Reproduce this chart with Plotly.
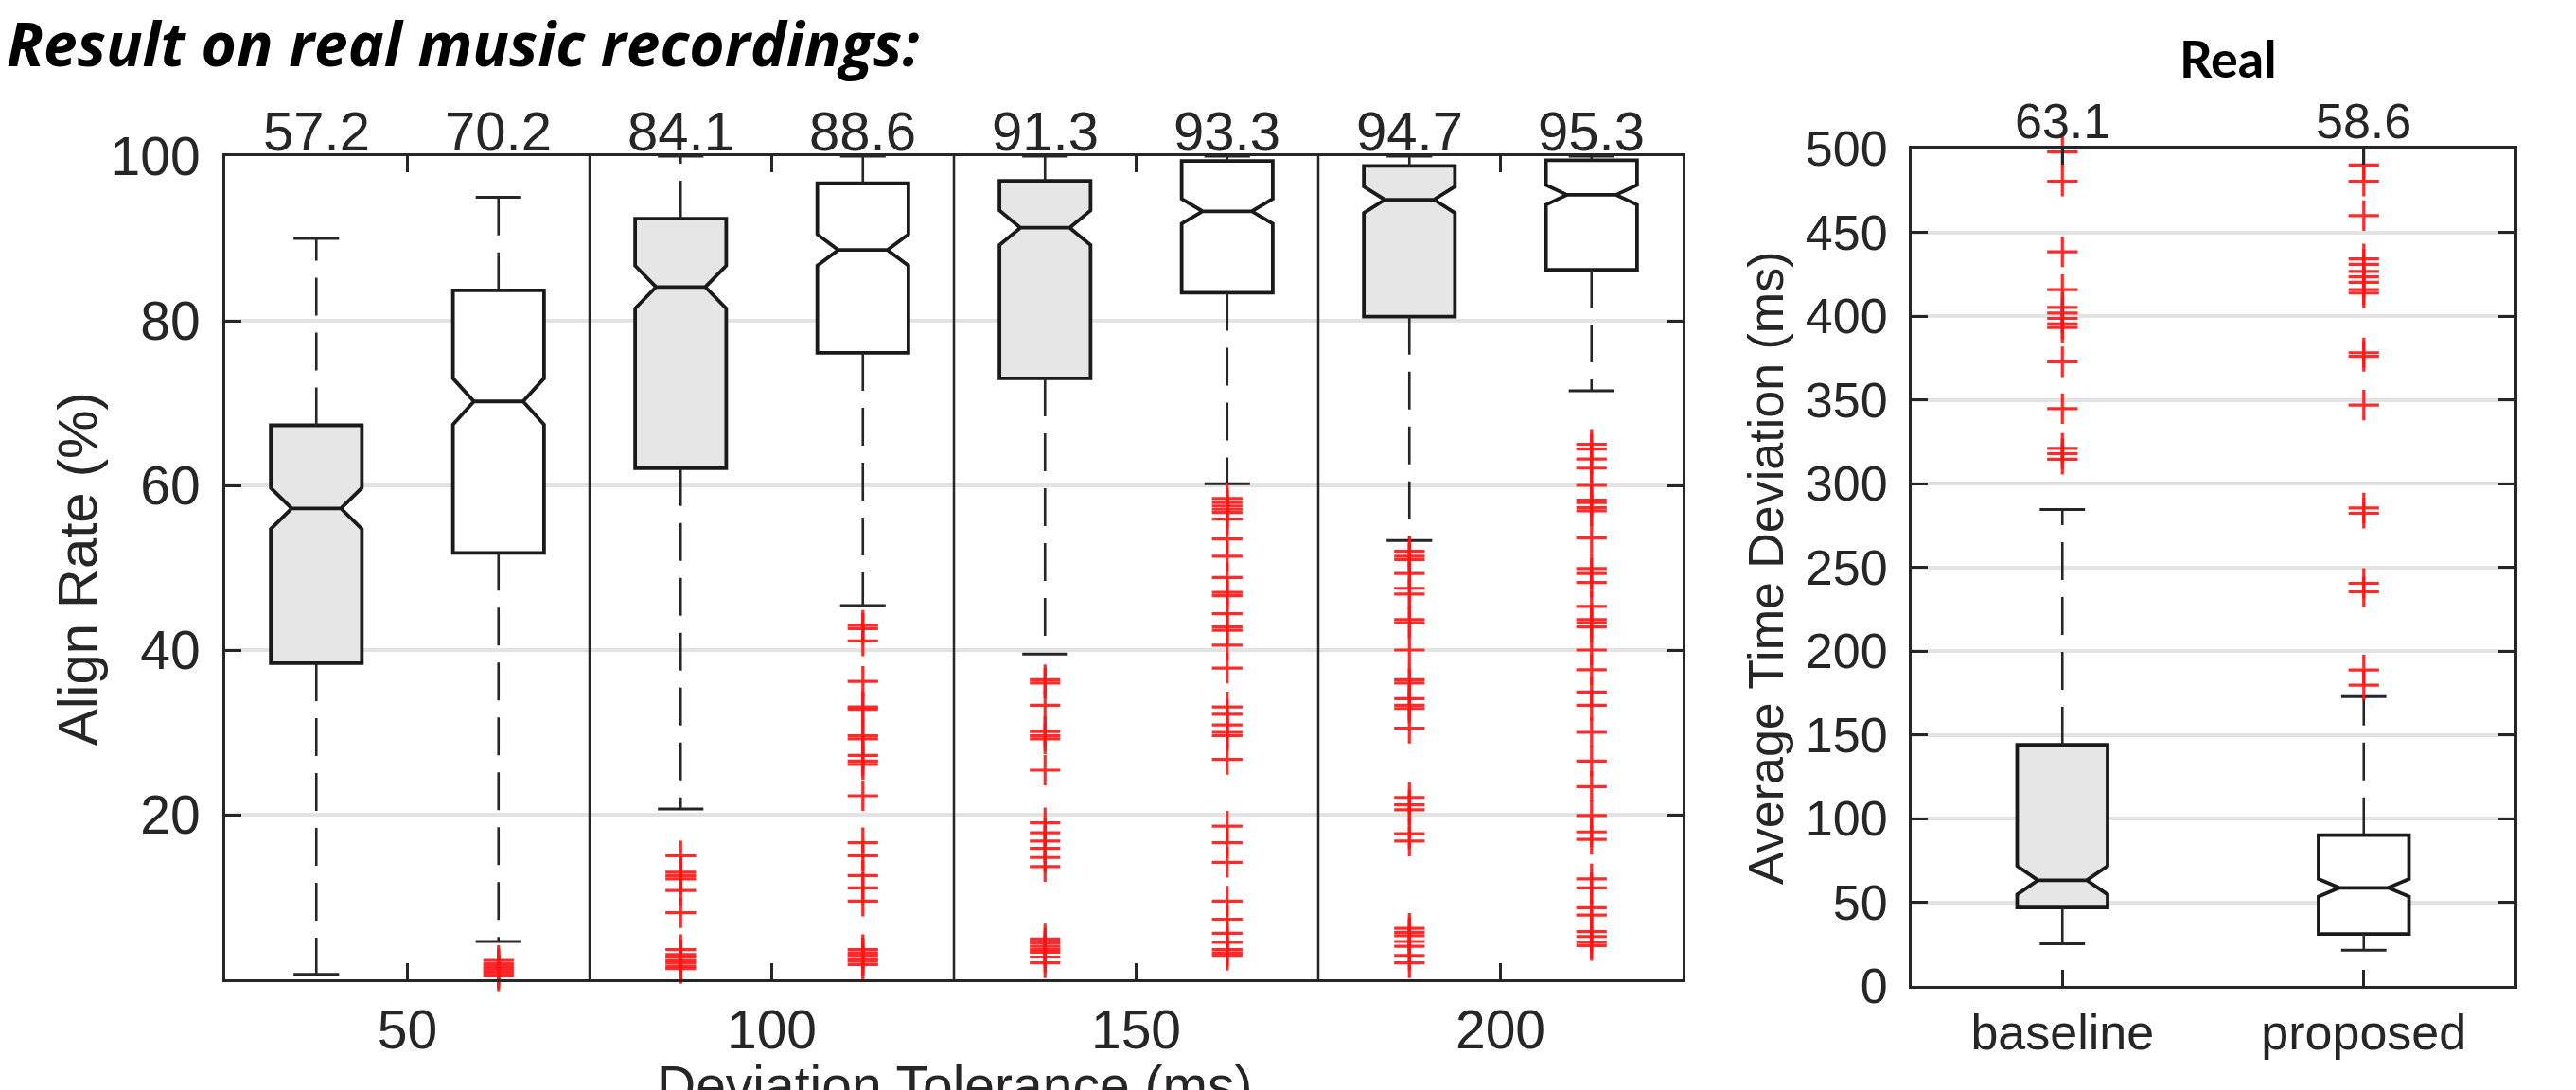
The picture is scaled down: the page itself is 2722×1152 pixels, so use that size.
import plotly.graph_objects as go

# ---------------- data ----------------
groups = ["50", "100", "150", "200"]           # deviation tolerance (ms)
methods = ["baseline", "proposed"]

# Align-rate boxes, order: 50-base, 50-prop, 100-base, 100-prop, ...
align_median = [57.2, 70.2, 84.1, 88.6, 91.3, 93.3, 94.7, 95.3]
align_q1 = [38.4, 51.8, 62.1, 76.1, 73.0, 83.4, 80.5, 86.2]
align_q3 = [67.3, 83.7, 92.4, 96.7, 97.0, 99.4, 98.8, 99.5]
align_lower = [0.6, 4.6, 20.7, 45.4, 39.5, 60.2, 53.3, 71.5]
align_upper = [90.0, 95.0, 100.0, 100.0, 100.0, 100.0, 100.0, 100.0]
align_notch = [2.5, 2.8, 2.6, 1.9, 2.1, 1.5, 1.6, 1.2]

out_50_base = []
out_50_prop = [2.3, 1.9, 1.6, 1.3, 1.0, 0.7, 0.4]
out_100_base = [15.0, 13.0, 12.6, 12.2, 10.8, 8.1, 3.6, 3.0, 2.7, 2.3, 2.0, 1.6, 1.3]
out_100_prop = [43.0, 42.6, 41.1, 36.2, 33.1, 32.8, 29.6, 29.2, 27.2, 26.5, 26.1, 22.3,
                16.6, 15.0, 12.6, 11.1, 9.5, 3.6, 3.2, 2.9, 2.5, 2.2, 1.8]
out_150_base = [36.4, 36.0, 33.3, 30.1, 29.6, 29.2, 25.4, 19.0, 17.8, 16.8, 15.9, 14.8,
                13.7, 4.9, 4.4, 4.0, 3.6, 3.3, 2.7, 2.0]
out_150_prop = [58.4, 57.9, 57.5, 57.1, 56.7, 55.9, 53.5, 51.4, 48.8, 47.0, 46.6, 44.4,
                42.8, 42.4, 40.6, 37.8, 33.1, 32.2, 30.9, 30.0, 29.6, 26.7, 18.6, 16.6,
                14.2, 9.5, 7.3, 5.6, 4.5, 3.6, 3.2, 2.9]
out_200_base = [52.0, 51.4, 51.0, 49.3, 47.5, 46.8, 43.7, 43.3, 40.0, 36.4, 36.0, 34.1,
                33.3, 32.9, 30.5, 22.1, 21.2, 20.6, 17.7, 16.8, 6.2, 5.7, 5.3, 4.6,
                4.0, 2.9, 2.0]
out_200_prop = [65.0, 64.4, 63.2, 62.1, 60.0, 58.2, 57.9, 57.3, 56.9, 53.6, 49.9, 49.3,
                48.2, 45.3, 43.7, 43.3, 42.8, 40.0, 37.6, 34.9, 33.3, 30.0, 26.5, 23.4,
                19.9, 17.9, 17.0, 12.2, 11.1, 8.7, 7.8, 5.8, 5.2, 4.5, 4.1]
align_outliers = [out_50_base, out_50_prop, out_100_base, out_100_prop,
                  out_150_base, out_150_prop, out_200_base, out_200_prop]

# Average time deviation (ms): baseline, proposed
dev_median = [63.1, 58.6]
dev_q1 = [46.8, 31.0]
dev_q3 = [144.0, 90.0]
dev_lower = [25.2, 21.3]
dev_upper = [284.4, 172.7]
dev_notch = [8.5, 5.2]
out_dev_base = [498.0, 480.5, 438.4, 415.8, 405.1, 401.8, 398.6, 395.3, 393.2, 372.7,
                344.7, 321.0, 317.8, 314.5]
out_dev_prop = [490.2, 480.5, 460.0, 434.1, 430.9, 426.6, 423.4, 420.1, 415.8, 413.7,
                378.1, 375.9, 346.8, 285.4, 282.2, 240.4, 235.3, 188.6, 179.6]
dev_outliers = [out_dev_base, out_dev_prop]

align_yticks = [20, 40, 60, 80, 100]
dev_yticks = [0, 50, 100, 150, 200, 250, 300, 350, 400, 450, 500]

# ---------------- styles ----------------
W, H = 2722, 1152
AX = "#262626"
GRID = "#e3e3e3"
BOXLINE = "#1a1a1a"
FILLS = ["#e6e6e6", "#ffffff"]
RED = "rgba(255,20,20,0.9)"
TICKFONT_L = dict(family="Liberation Sans, Arial, sans-serif", size=57, color=AX)
TICKFONT_R = dict(family="Liberation Sans, Arial, sans-serif", size=52, color=AX)

fig = go.Figure()


def add_boxes(xaxis, yaxis, positions, q1, med, q3, lo, hi, notch, outs, fill,
              bw, capw):
    fig.add_trace(go.Box(
        x=positions, q1=q1, median=med, q3=q3, lowerfence=q1, upperfence=q3,
        notchspan=notch, notched=True, notchwidth=0.23, width=bw,
        fillcolor=fill, line=dict(color=BOXLINE, width=3.8), whiskerwidth=0,
        boxpoints=False, hoverinfo="skip", xaxis=xaxis, yaxis=yaxis))
    # dashed whiskers
    wx, wy, cx, cy = [], [], [], []
    for p, a, b, l, h in zip(positions, q1, q3, lo, hi):
        wx += [p, p, None, p, p, None]
        wy += [b, h, None, a, l, None]
        cx += [p - capw / 2, p + capw / 2, None, p - capw / 2, p + capw / 2, None]
        cy += [h, h, None, l, l, None]
    fig.add_trace(go.Scatter(x=wx, y=wy, mode="lines", hoverinfo="skip",
                             line=dict(color=AX, width=2.6, dash="40px,18px"),
                             xaxis=xaxis, yaxis=yaxis))
    fig.add_trace(go.Scatter(x=cx, y=cy, mode="lines", hoverinfo="skip",
                             line=dict(color=AX, width=3),
                             xaxis=xaxis, yaxis=yaxis))
    ox, oy = [], []
    for p, o in zip(positions, outs):
        ox += [p] * len(o)
        oy += list(o)
    fig.add_trace(go.Scatter(x=ox, y=oy, mode="markers", hoverinfo="skip",
                             marker=dict(symbol="cross-thin", size=23,
                                         line=dict(color=RED, width=3.2)),
                             cliponaxis=False, xaxis=xaxis, yaxis=yaxis))


# left plot: group g at x = g+1, baseline at -0.25, proposed at +0.25
for m in range(2):
    idx = [g * 2 + m for g in range(len(groups))]
    pos = [g + 1 + (-0.25 if m == 0 else 0.25) for g in range(len(groups))]
    add_boxes("x", "y", pos,
              [align_q1[i] for i in idx], [align_median[i] for i in idx],
              [align_q3[i] for i in idx], [align_lower[i] for i in idx],
              [align_upper[i] for i in idx], [align_notch[i] for i in idx],
              [align_outliers[i] for i in idx], FILLS[m], 0.25, 0.125)

# right plot
for m in range(2):
    add_boxes("x2", "y2", [m + 1], [dev_q1[m]], [dev_median[m]], [dev_q3[m]],
              [dev_lower[m]], [dev_upper[m]], [dev_notch[m]], [dev_outliers[m]],
              FILLS[m], 0.30, 0.15)

annotations = []
# median labels above plots
for i, med in enumerate(align_median):
    g, m = divmod(i, 2)
    annotations.append(dict(x=g + 1 + (-0.25 if m == 0 else 0.25), y=100,
                            xref="x", yref="y", text=f"{med:.1f}", showarrow=False,
                            xanchor="center", yanchor="bottom", yshift=-8,
                            font=dict(TICKFONT_L, size=58)))
for m, med in enumerate(dev_median):
    annotations.append(dict(x=m + 1, y=500, xref="x2", yref="y2", text=f"{med:.1f}",
                            showarrow=False, xanchor="center", yanchor="bottom",
                            yshift=-2, font=TICKFONT_R))

# titles
annotations += [
    dict(x=6 / W, y=1 - 45 / H, xref="paper", yref="paper", xanchor="left",
         yanchor="middle", borderpad=0,
         text="<b><i>Result on real music recordings:</i></b>", showarrow=False,
         font=dict(family="Open Sans, sans-serif", size=64, color="black")),
    dict(x=2354 / W, y=1 - 62 / H, xref="paper", yref="paper", text="<b>Real</b>",
         xanchor="center", yanchor="middle", showarrow=False,
         font=dict(family="Lato, sans-serif", size=54, color="black")),
    dict(x=81 / W, y=1 - 601 / H, xref="paper", yref="paper", text="Align Rate (%)",
         xanchor="center", yanchor="middle", textangle=-90, showarrow=False,
         font=dict(TICKFONT_L, size=58)),
    dict(x=1866 / W, y=1 - 600 / H, xref="paper", yref="paper",
         text="Average Time Deviation (ms)", textangle=-90, showarrow=False,
         xanchor="center", yanchor="middle", font=TICKFONT_R),
    dict(x=1008 / W, y=1 - 1147 / H, xref="paper", yref="paper",
         text="Deviation Tolerance (ms)", showarrow=False, xanchor="center",
         yanchor="middle", borderpad=0, font=dict(TICKFONT_L, size=57)),
]

# group separators
shapes = [dict(type="line", xref="x", yref="y domain", x0=g + 1.5, x1=g + 1.5,
               y0=0, y1=1, line=dict(color=AX, width=2.5), layer="above")
          for g in range(len(groups) - 1)]

axis_common = dict(showline=True, linecolor=AX, linewidth=3, mirror="ticks",
                   ticks="inside", ticklen=17, tickwidth=2.5, tickcolor=AX,
                   zeroline=False, fixedrange=True, automargin=False)

fig.update_layout(
    width=W, height=H, margin=dict(l=0, r=0, t=0, b=0, autoexpand=False),
    paper_bgcolor="white", plot_bgcolor="white", showlegend=False,
    xaxis=dict(axis_common, domain=[238 / W, 1778 / W], range=[0.5, 4.5],
               tickvals=[1, 2, 3, 4], ticktext=groups, showgrid=False,
               tickfont=TICKFONT_L, ticklabelstandoff=2, anchor="y"),
    yaxis=dict(axis_common, domain=[1 - 1035 / H, 1 - 165 / H], range=[0, 100],
               tickvals=align_yticks, showgrid=True, gridcolor=GRID, gridwidth=4,
               tickfont=TICKFONT_L, ticklabelstandoff=12, anchor="x"),
    xaxis2=dict(axis_common, domain=[2020 / W, 2657 / W], range=[0.5, 2.5],
                tickvals=[1, 2], ticktext=methods, showgrid=False,
                tickfont=TICKFONT_R, ticklabelstandoff=2, anchor="y2"),
    yaxis2=dict(axis_common, domain=[1 - 1042 / H, 1 - 157 / H], range=[0, 500],
                tickvals=dev_yticks, showgrid=True, gridcolor=GRID, gridwidth=4,
                tickfont=TICKFONT_R, ticklabelstandoff=12, anchor="x2"),
    annotations=annotations, shapes=shapes,
)

fig.write_html("out.html")
